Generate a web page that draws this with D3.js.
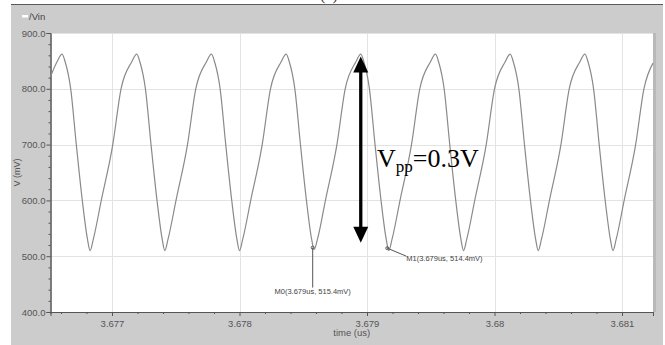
<!DOCTYPE html>
<html>
<head>
<meta charset="utf-8">
<script src="https://cdn.jsdelivr.net/npm/d3@7"></script>
<style>
	html, body { margin: 0; padding: 0; background: #fff; }
	svg { display: block; }
</style>
</head>
<body>
<div id="chart"></div>
<script>
// samples, time in us, voltage in mV
const timeUs = [
	3.676518, 3.676568,
	3.676608, 3.676633, 3.676676, 3.67672, 3.676767, 3.676808, 3.676828, 3.676853, 3.676916, 3.677006, 3.677071, 3.677154,
	3.677194, 3.677219, 3.677262, 3.677306, 3.677353, 3.677394, 3.677414, 3.677439, 3.677502, 3.677592, 3.677657, 3.67774,
	3.67778, 3.677805, 3.677848, 3.677892, 3.677939, 3.67798, 3.678, 3.678025, 3.678088, 3.678178, 3.678243, 3.678326,
	3.678366, 3.678391, 3.678434, 3.678478, 3.678525, 3.678566, 3.678586, 3.678611, 3.678674, 3.678764, 3.678829, 3.678912,
	3.678951, 3.678976, 3.679019, 3.679063, 3.67911, 3.679151, 3.679171, 3.679196, 3.679259, 3.679349, 3.679414, 3.679497,
	3.679537, 3.679562, 3.679605, 3.679649, 3.679696, 3.679737, 3.679757, 3.679782, 3.679845, 3.679935, 3.68, 3.680083,
	3.680123, 3.680148, 3.680191, 3.680235, 3.680282, 3.680323, 3.680343, 3.680368, 3.680431, 3.680521, 3.680586, 3.680669,
	3.680709, 3.680734, 3.680777, 3.680821, 3.680868, 3.680909, 3.680929, 3.680954, 3.681017, 3.681107, 3.681172, 3.681243,
]
const vinMv = [
	822, 848,
	862, 848, 800, 700, 600, 530, 510, 530, 600, 700, 800, 848,
	862, 848, 800, 700, 600, 530, 510, 530, 600, 700, 800, 848,
	862, 848, 800, 700, 600, 530, 510, 530, 600, 700, 800, 848,
	862, 848, 800, 700, 600, 530, 512, 530, 600, 700, 800, 848,
	862, 848, 800, 700, 600, 530, 510, 530, 600, 700, 800, 848,
	862, 848, 800, 700, 600, 530, 510, 530, 600, 700, 800, 848,
	862, 848, 800, 700, 600, 530, 510, 530, 600, 700, 800, 848,
	862, 848, 800, 700, 600, 530, 510, 530, 600, 700, 800, 846,
]

const yTicks = [400, 500, 600, 700, 800, 900]
const xTicks = [3.677, 3.678, 3.679, 3.68, 3.681]
const xTickLabels = ['3.677', '3.678', '3.679', '3.68', '3.681']

const markerNames = ['M0', 'M1']
const markerTimes = [3.678574, 3.679159]
const markerValues = [515.4, 514.4]
const markerTimeLabels = ['3.679', '3.679']

// peak-to-peak annotation (arrow ends, mV) at the peak time
const vppTime = 3.678951
const vppEnds = [858, 524]

const fullWidth = 665
const fullHeight = 345
const plot = {left: 50.5, right: 653, top: 33, bottom: 312}

const x = d3
	.scaleLinear()
	.domain([3.6765176, 3.6812431])
	.range([plot.left, plot.right])
const y = d3
	.scaleLinear()
	.domain([400, 900])
	.range([plot.bottom, plot.top])

const svg = d3
	.select('#chart')
	.append('svg')
	.attr('width', fullWidth)
	.attr('height', fullHeight)
	.style('font-family', "'Liberation Sans', Arial, sans-serif")

svg
	.append('text')
	.attr('x', 329)
	.attr('y', 0)
	.attr('text-anchor', 'middle')
	.style('font-family', "'Liberation Serif', serif")
	.style('font-size', '16px')
	.attr('fill', '#333')
	.text('(a)')

// grey frame of the waveform window
svg
	.append('rect')
	.attr('x', 11)
	.attr('y', 4)
	.attr('width', 652)
	.attr('height', fullHeight - 4)
	.attr('fill', '#cccccc')
svg
	.append('line')
	.attr('x1', 11)
	.attr('x2', 663)
	.attr('y1', 4.5)
	.attr('y2', 4.5)
	.attr('stroke', '#5a5a5a')
	.attr('stroke-width', 1)

svg
	.append('rect')
	.attr('x', 22)
	.attr('y', 15)
	.attr('width', 6)
	.attr('height', 2.5)
	.attr('fill', '#fff')
svg
	.append('text')
	.attr('x', 29)
	.attr('y', 20)
	.style('font-size', '9.5px')
	.attr('fill', '#444')
	.text('/Vin')

svg
	.append('rect')
	.attr('x', plot.left)
	.attr('y', plot.top)
	.attr('width', plot.right - plot.left)
	.attr('height', plot.bottom - plot.top)
	.attr('fill', '#fff')
svg
	.append('rect')
	.attr('x', plot.right)
	.attr('y', plot.top)
	.attr('width', 3)
	.attr('height', plot.bottom - plot.top)
	.attr('fill', '#b9b9b9')

const grid = svg.append('g').attr('stroke', '#e3e3e3').attr('stroke-width', 1)
grid
	.selectAll('.hg')
	.data(yTicks.slice(1))
	.join('line')
	.attr('x1', plot.left)
	.attr('x2', plot.right)
	.attr('y1', (d) => Math.round(y(d)) + 0.5)
	.attr('y2', (d) => Math.round(y(d)) + 0.5)
grid
	.selectAll('.vg')
	.data(xTicks)
	.join('line')
	.attr('x1', (d) => Math.round(x(d)) + 0.5)
	.attr('x2', (d) => Math.round(x(d)) + 0.5)
	.attr('y1', plot.top)
	.attr('y2', plot.bottom)

// axes
const yAxis = svg
	.append('g')
	.attr('transform', `translate(${plot.left},0)`)
	.call(d3.axisLeft(y).tickValues(yTicks).tickFormat(d3.format('.1f')).tickSize(4).tickPadding(1))
const yMinor = svg
	.append('g')
	.attr('transform', `translate(${plot.left},0)`)
	.call(d3.axisLeft(y).tickValues(d3.range(420, 900, 20).filter((v) => v % 100)).tickFormat('').tickSize(2))
const xAxis = svg
	.append('g')
	.attr('transform', `translate(0,${plot.bottom})`)
	.call(
		d3
			.axisBottom(x)
			.tickValues(xTicks)
			.tickFormat((d, i) => xTickLabels[i])
			.tickSize(4)
			.tickPadding(4)
	)
const xMinor = svg
	.append('g')
	.attr('transform', `translate(0,${plot.bottom})`)
	.call(
		d3
			.axisBottom(x)
			.tickValues(d3.range(3.6766, 3.6812, 0.0002).filter((v) => Math.abs(v * 1000 - Math.round(v * 1000)) > 1e-6))
			.tickFormat('')
			.tickSize(2)
	)
;[yAxis, yMinor, xAxis, xMinor].forEach((g) => {
	g.select('.domain').attr('stroke', '#555')
	g.selectAll('.tick line').attr('stroke', '#555')
	g.selectAll('text')
		.attr('fill', '#555')
		.style('font-family', "'Liberation Sans', Arial, sans-serif")
		.style('font-size', '9.5px')
})

svg
	.append('text')
	.attr('transform', `translate(20,${(plot.top + plot.bottom) / 2}) rotate(-90)`)
	.attr('text-anchor', 'middle')
	.style('font-size', '9px')
	.attr('fill', '#555')
	.text('V (mV)')
svg
	.append('text')
	.attr('x', (plot.left + plot.right) / 2)
	.attr('y', 336)
	.attr('text-anchor', 'middle')
	.style('font-size', '9.5px')
	.attr('fill', '#555')
	.text('time (us)')

// trace
const line = d3
	.line()
	.x((i) => x(timeUs[i]))
	.y((i) => y(vinMv[i]))
	.curve(d3.curveMonotoneX)
svg
	.append('path')
	.attr('d', line(d3.range(timeUs.length)))
	.attr('fill', 'none')
	.attr('stroke', '#8a8a8a')
	.attr('stroke-width', 1.2)

// markers
const labelOffsets = [
	[0, 40],
	[19, 8],
]
markerNames.forEach((name, i) => {
	const mx = x(markerTimes[i])
	const my = y(markerValues[i])
	const [dx, dy] = labelOffsets[i]
	svg
		.append('line')
		.attr('x1', mx)
		.attr('y1', my)
		.attr('x2', mx + dx)
		.attr('y2', my + dy)
		.attr('stroke', '#555')
		.attr('stroke-width', 1)
	svg
		.append('circle')
		.attr('cx', mx)
		.attr('cy', my)
		.attr('r', 1.5)
		.attr('fill', 'none')
		.attr('stroke', '#555')
	svg
		.append('text')
		.attr('x', mx + dx)
		.attr('y', my + dy + (i === 0 ? 6 : 5))
		.attr('text-anchor', i === 0 ? 'middle' : 'start')
		.style('font-size', '7.5px')
		.attr('fill', '#444')
		.text(`${name}(${markerTimeLabels[i]}us, ${markerValues[i]}mV)`)
})

// Vpp arrow
const ax = x(vppTime)
const yTop = y(vppEnds[0])
const yBot = y(vppEnds[1])
svg
	.append('line')
	.attr('x1', ax)
	.attr('x2', ax)
	.attr('y1', yTop + 14)
	.attr('y2', yBot - 14)
	.attr('stroke', '#000')
	.attr('stroke-width', 3.3)
svg
	.append('path')
	.attr('d', `M${ax},${yTop} L${ax - 7.5},${yTop + 16} L${ax + 7.5},${yTop + 16} Z`)
	.attr('fill', '#000')
svg
	.append('path')
	.attr('d', `M${ax},${yBot} L${ax - 7.5},${yBot - 16} L${ax + 7.5},${yBot - 16} Z`)
	.attr('fill', '#000')

const vpp = svg
	.append('text')
	.attr('x', 377)
	.attr('y', 167)
	.style('font-family', "'Liberation Serif', 'Times New Roman', serif")
	.style('font-size', '26px')
	.attr('fill', '#000')
vpp.append('tspan').text('V')
vpp.append('tspan').attr('dy', 5).style('font-size', '17px').text('pp')
vpp.append('tspan').attr('dy', -5).text('=0.3V')
</script>
</body>
</html>
